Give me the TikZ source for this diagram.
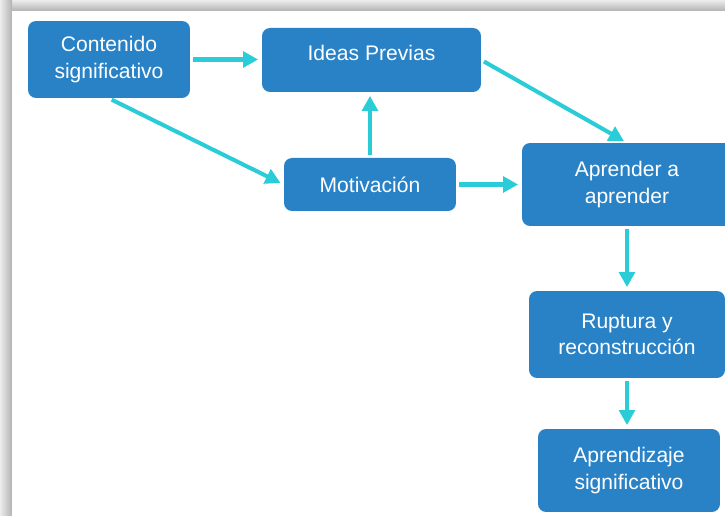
\documentclass[tikz,border=0pt]{standalone}
\usepackage{fontspec}
\setmainfont{Liberation Sans}
\usetikzlibrary{arrows.meta}
\definecolor{BOX-BLUE}{RGB}{41, 130, 198}
\definecolor{ARROW-CYAN}{RGB}{42, 204, 216}

\tikzset{
  stepbox/.style={fill=BOX-BLUE, rounded corners=0.16cm, text=white, align=center,
    font=\fontsize{12}{15.2}\selectfont, inner sep=0pt},
  flow/.style={-{Triangle[length=8.5pt, width=8.8pt]}, ARROW-CYAN, line width=2.3pt,
    shorten >=2pt, shorten <=1.7pt}
}

\begin{document}
\begin{tikzpicture}[x=0.02cm, y=-0.02cm]
  \useasboundingbox (0,0) rectangle (725,516);
  \clip (0,0) rectangle (725,516);

  % Slide frame (shadow on top and left)
  \fill[white] (0,0) rectangle (725,516);
  \shade[top color=gray!15, bottom color=gray!60] (0,0) rectangle (725,11);
  \shade[left color=gray!15, right color=gray!60] (0,0) rectangle (12,516);
  \fill[white] (12,11) rectangle (725,516);

  % Boxes
  \node[stepbox, minimum width=3.24cm, minimum height=1.54cm] (cont) at (109,59.5) {Contenido\\significativo};
  \node[stepbox, minimum width=4.38cm, minimum height=1.28cm, text depth=0.3cm] (ideas) at (371.5,60) {Ideas Previas};
  \node[stepbox, minimum width=3.44cm, minimum height=1.06cm] (motiv) at (370,184.5) {Motivación};
  \node[stepbox, minimum width=4.2cm, minimum height=1.66cm] (aprender) at (627,184.5) {Aprender a\\aprender};
  \node[stepbox, minimum width=3.92cm, minimum height=1.74cm] (ruptura) at (627,334.5) {Ruptura y\\reconstrucción};
  \node[stepbox, minimum width=3.64cm, minimum height=1.66cm] (aprendizaje) at (629,470.5) {Aprendizaje\\significativo};

  % Arrows
  \draw[flow] (cont.east) -- (ideas.west |- cont.east);
  \draw[flow] (cont.south) -- (motiv.west);
  \draw[flow] (motiv.north) -- (motiv.north |- ideas.south);
  \draw[flow] (ideas.east) -- (aprender.north);
  \draw[flow] (motiv.east) -- (aprender.west);
  \draw[flow] (aprender.south) -- (ruptura.north);
  \draw[flow] (ruptura.south) -- (ruptura.south |- aprendizaje.north);
\end{tikzpicture}
\end{document}
